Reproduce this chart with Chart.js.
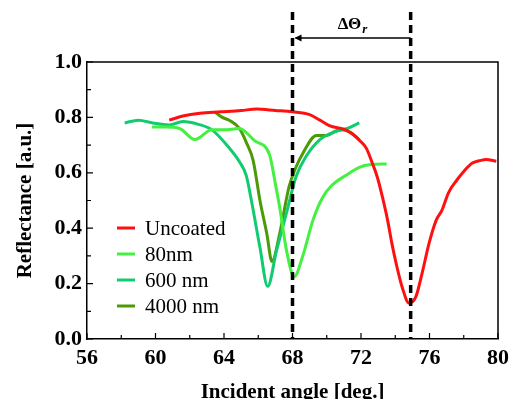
<!DOCTYPE html>
<html>
<head>
<meta charset="utf-8">
<script src="https://cdn.jsdelivr.net/npm/chart.js@4"></script>
<style>
  html, body { margin: 0; padding: 0; background: #fff; }
  #wrap { width: 515px; height: 399px; }
</style>
</head>
<body>
<div id="wrap"><canvas id="chart" width="515" height="399"></canvas></div>
<script>
// values
const uncoatedX = [60.8, 61.6, 62.6, 63.8, 65.0, 65.9, 67.0, 68.0, 69.0, 69.6, 70.15, 71.1, 71.5, 71.9, 72.3, 72.66, 72.95, 73.25, 73.55, 73.8, 74.1, 74.4, 74.8, 75.2, 75.57, 75.98, 76.4, 76.73, 77.1, 77.6, 78.0, 78.5, 79.0, 79.3, 79.9];
const uncoatedY = [0.79, 0.805, 0.815, 0.82, 0.825, 0.83, 0.825, 0.82, 0.81, 0.79, 0.77, 0.755, 0.74, 0.718, 0.69, 0.635, 0.585, 0.513, 0.43, 0.346, 0.26, 0.188, 0.13, 0.152, 0.238, 0.347, 0.43, 0.465, 0.527, 0.574, 0.605, 0.635, 0.645, 0.648, 0.642];

const nm80X = [59.8, 60.6, 61.4, 62.3, 63.3, 64.0, 64.9, 65.8, 66.66, 67.0, 67.24, 67.65, 68.1, 68.6, 69.2, 69.75, 70.3, 71.1, 71.9, 72.6, 73.5];
const nm80Y = [0.765, 0.765, 0.76, 0.72, 0.755, 0.755, 0.76, 0.715, 0.665, 0.56, 0.48, 0.32, 0.225, 0.30, 0.43, 0.51, 0.555, 0.59, 0.62, 0.63, 0.632];

const nm600X = [58.2, 59.0, 59.85, 60.8, 61.6, 62.5, 63.3, 64.3, 64.9, 65.3, 65.6, 66.1, 66.55, 67.07, 67.65, 68.2, 68.8, 69.6, 70.56, 71.2, 71.9];
const nm600Y = [0.78, 0.79, 0.78, 0.773, 0.785, 0.775, 0.755, 0.69, 0.64, 0.59, 0.50, 0.33, 0.19, 0.32, 0.455, 0.585, 0.66, 0.72, 0.75, 0.76, 0.78];

const nm4000X = [63.45, 63.9, 64.3, 64.9, 65.3, 65.7, 66.1, 66.5, 66.8, 67.25, 67.8, 68.2, 68.6, 69.4, 70.0, 70.5, 70.9, 71.4, 71.9];
const nm4000Y = [0.82, 0.80, 0.79, 0.76, 0.71, 0.645, 0.50, 0.38, 0.28, 0.38, 0.55, 0.62, 0.67, 0.735, 0.735, 0.75, 0.755, 0.745, 0.72];

const seriesLabels = ['Uncoated', '80nm', '600 nm', '4000 nm'];
const seriesColors = ['#ff1010', '#44f040', '#10cc70', '#4c9a08'];

const resonanceAngles = [68.0, 74.9];

const xTicks = [56, 60, 64, 68, 72, 76, 80];
const yTicks = [0.0, 0.2, 0.4, 0.6, 0.8, 1.0];

const serif = '"Liberation Serif", "Times New Roman", serif';

function toPoints(xs, ys) {
  return xs.map((x, i) => ({ x: x, y: ys[i] }));
}

const allSeries = [
  toPoints(uncoatedX, uncoatedY),
  toPoints(nm80X, nm80Y),
  toPoints(nm600X, nm600Y),
  toPoints(nm4000X, nm4000Y),
];

const datasets = allSeries.map((pts, i) => ({
  label: seriesLabels[i],
  data: pts,
  borderColor: seriesColors[i],
  borderWidth: 3,
  pointRadius: 0,
  cubicInterpolationMode: 'monotone',
  fill: false,
}));

// frame, minor ticks, resonance lines and arrow
const decorPlugin = {
  id: 'decor',
  afterDraw(chart) {
    const ctx = chart.ctx;
    const xs = chart.scales.x;
    const ys = chart.scales.y;
    const a = chart.chartArea;
    ctx.save();

    ctx.strokeStyle = '#000';
    ctx.lineWidth = 1.5;
    ctx.beginPath();
    ctx.moveTo(a.left, a.top);
    ctx.lineTo(a.right, a.top);
    ctx.lineTo(a.right, a.bottom);
    ctx.stroke();

    ctx.lineWidth = 1.2;
    ctx.beginPath();
    for (let v = 56; v <= 80; v += 2) {
      const px = xs.getPixelForValue(v);
      const len = v % 4 === 0 ? 6 : 4;
      ctx.moveTo(px, a.bottom);
      ctx.lineTo(px, a.bottom - len);
    }
    for (let k = 0; k <= 10; k++) {
      const py = ys.getPixelForValue(k / 10);
      const len = k % 2 === 0 ? 6 : 4;
      ctx.moveTo(a.left, py);
      ctx.lineTo(a.left + len, py);
    }
    ctx.stroke();

    // dashed resonance markers
    ctx.lineWidth = 3.5;
    ctx.setLineDash([8, 5]);
    ctx.beginPath();
    resonanceAngles.forEach((ang) => {
      const px = xs.getPixelForValue(ang);
      ctx.moveTo(px, 12);
      ctx.lineTo(px, a.bottom);
    });
    ctx.stroke();
    ctx.setLineDash([]);

    // shift arrow
    const x1 = xs.getPixelForValue(resonanceAngles[0]);
    const x2 = xs.getPixelForValue(resonanceAngles[1]);
    const ay = 38;
    ctx.lineWidth = 1.5;
    ctx.beginPath();
    ctx.moveTo(x2, ay);
    ctx.lineTo(x1 + 3, ay);
    ctx.stroke();
    ctx.fillStyle = '#000';
    ctx.beginPath();
    ctx.moveTo(x1 + 2, ay);
    ctx.lineTo(x1 + 9, ay - 3.5);
    ctx.lineTo(x1 + 9, ay + 3.5);
    ctx.closePath();
    ctx.fill();

    ctx.textBaseline = 'alphabetic';
    ctx.textAlign = 'left';
    ctx.font = 'bold 17px ' + serif;
    const main = '\u0394\u0398';
    const w = ctx.measureText(main).width;
    const tx = (x1 + x2) / 2 - 2 - w / 2;
    ctx.fillText(main, tx, 29);
    ctx.font = 'italic bold 13px ' + serif;
    ctx.fillText('r', tx + w + 1, 33);

    // legend inside the plot
    ctx.font = '21px ' + serif;
    ctx.textBaseline = 'middle';
    seriesLabels.forEach((lab, i) => {
      const cy = 228 + i * 26;
      ctx.strokeStyle = seriesColors[i];
      ctx.lineWidth = 3;
      ctx.beginPath();
      ctx.moveTo(117, cy);
      ctx.lineTo(135, cy);
      ctx.stroke();
      ctx.fillStyle = '#000';
      ctx.fillText(lab, 145, cy + 1);
    });

    ctx.restore();
  },
};

const ctx = document.getElementById('chart').getContext('2d');
const chart = new Chart(ctx, {
  type: 'line',
  data: { datasets: datasets },
  options: {
    responsive: false,
    animation: false,
    layout: { padding: { top: 62, right: 16, left: 0, bottom: 0 } },
    plugins: { legend: { display: false }, tooltip: { enabled: false } },
    scales: {
      x: {
        type: 'linear',
        min: 56,
        max: 80,
        afterFit(scale) { scale.height = 60; },
        afterBuildTicks(scale) { scale.ticks = xTicks.map((v) => ({ value: v })); },
        ticks: {
          color: '#000',
          padding: 6,
          font: { family: serif, size: 22, weight: 'bold' },
        },
        grid: { display: false, drawTicks: false },
        border: { display: true, color: '#000', width: 1.5 },
        title: {
          display: true,
          text: 'Incident angle [deg.]',
          color: '#000',
          font: { family: serif, size: 21, weight: 'bold' },
          padding: { top: 0, bottom: -6 },
        },
      },
      y: {
        min: 0,
        max: 1,
        afterFit(scale) { scale.width = 87; },
        afterBuildTicks(scale) { scale.ticks = yTicks.map((v) => ({ value: v })); },
        ticks: {
          color: '#000',
          padding: 5,
          font: { family: serif, size: 22, weight: 'bold' },
          callback: (v) => v.toFixed(1),
        },
        grid: { display: false, drawTicks: false },
        border: { display: true, color: '#000', width: 1.5 },
        title: {
          display: true,
          text: 'Reflectance [a.u.]',
          color: '#000',
          font: { family: serif, size: 21, weight: 'bold' },
          padding: { top: 13, bottom: 0 },
        },
      },
    },
  },
  plugins: [decorPlugin],
});
</script>
</body>
</html>
